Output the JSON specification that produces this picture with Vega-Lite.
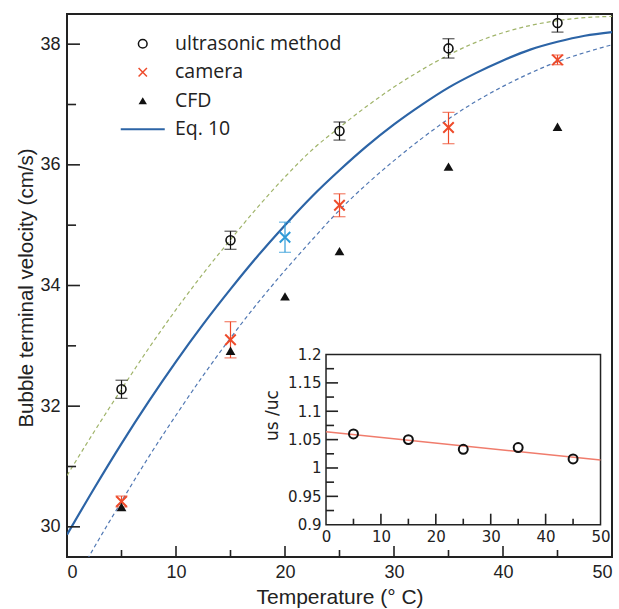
{
  "$schema": "https://vega.github.io/schema/vega-lite/v6.json",
  "width": 545,
  "height": 543,
  "autosize": {"type": "none"},
  "padding": {"left": 67, "top": 14, "right": 7, "bottom": 52},
  "background": "white",
  "config": {
    "view": {"stroke": "#222", "strokeWidth": 2},
    "axis": {"grid": false, "domain": false, "ticks": false, "zindex": 1, "labelFont": "Liberation Sans", "titleFont": "Liberation Sans", "labelColor": "#222", "titleColor": "#222", "titleFontWeight": "normal"}
  },
  "datasets": {
    "meas": [
      {"series": "ultrasonic method", "T": 5, "v": 32.28, "lo": 32.13, "hi": 32.43},
      {"series": "ultrasonic method", "T": 15, "v": 34.75, "lo": 34.6, "hi": 34.9},
      {"series": "ultrasonic method", "T": 25, "v": 36.56, "lo": 36.41, "hi": 36.71},
      {"series": "ultrasonic method", "T": 35, "v": 37.93, "lo": 37.77, "hi": 38.09},
      {"series": "ultrasonic method", "T": 45, "v": 38.35, "lo": 38.2, "hi": 38.5},
      {"series": "camera", "T": 5, "v": 30.42, "lo": 30.33, "hi": 30.51},
      {"series": "camera", "T": 15, "v": 33.1, "lo": 32.8, "hi": 33.4},
      {"series": "camera", "T": 25, "v": 35.33, "lo": 35.14, "hi": 35.52},
      {"series": "camera", "T": 35, "v": 36.62, "lo": 36.35, "hi": 36.87},
      {"series": "camera", "T": 45, "v": 37.74, "lo": 37.66, "hi": 37.82},
      {"series": "CFD", "T": 5, "v": 30.33},
      {"series": "CFD", "T": 15, "v": 32.92},
      {"series": "CFD", "T": 20, "v": 33.82},
      {"series": "CFD", "T": 25, "v": 34.57},
      {"series": "CFD", "T": 35, "v": 35.97},
      {"series": "CFD", "T": 45, "v": 36.63}
    ],
    "blue": [{"T": 20, "v": 34.8, "lo": 34.55, "hi": 35.05}],
    "curves": [
      {"series": "Eq. 10", "T": 0, "v": 29.87}, {"series": "Eq. 10", "T": 2.5, "v": 30.64}, {"series": "Eq. 10", "T": 5, "v": 31.38},
      {"series": "Eq. 10", "T": 7.5, "v": 32.08}, {"series": "Eq. 10", "T": 10, "v": 32.74}, {"series": "Eq. 10", "T": 12.5, "v": 33.36},
      {"series": "Eq. 10", "T": 15, "v": 33.94}, {"series": "Eq. 10", "T": 17.5, "v": 34.49}, {"series": "Eq. 10", "T": 20, "v": 35.0},
      {"series": "Eq. 10", "T": 22.5, "v": 35.48}, {"series": "Eq. 10", "T": 25, "v": 35.91}, {"series": "Eq. 10", "T": 27.5, "v": 36.31},
      {"series": "Eq. 10", "T": 30, "v": 36.67}, {"series": "Eq. 10", "T": 32.5, "v": 36.99}, {"series": "Eq. 10", "T": 35, "v": 37.28},
      {"series": "Eq. 10", "T": 37.5, "v": 37.52}, {"series": "Eq. 10", "T": 40, "v": 37.73}, {"series": "Eq. 10", "T": 42.5, "v": 37.91},
      {"series": "Eq. 10", "T": 45, "v": 38.04}, {"series": "Eq. 10", "T": 47.5, "v": 38.14}, {"series": "Eq. 10", "T": 50, "v": 38.2},
      {"series": "upper", "T": 0, "v": 30.85}, {"series": "upper", "T": 2.5, "v": 31.58}, {"series": "upper", "T": 5, "v": 32.28},
      {"series": "upper", "T": 7.5, "v": 32.96}, {"series": "upper", "T": 10, "v": 33.6}, {"series": "upper", "T": 12.5, "v": 34.2},
      {"series": "upper", "T": 15, "v": 34.76}, {"series": "upper", "T": 17.5, "v": 35.3}, {"series": "upper", "T": 20, "v": 35.8},
      {"series": "upper", "T": 22.5, "v": 36.25}, {"series": "upper", "T": 25, "v": 36.62}, {"series": "upper", "T": 27.5, "v": 36.97},
      {"series": "upper", "T": 30, "v": 37.29}, {"series": "upper", "T": 32.5, "v": 37.57}, {"series": "upper", "T": 35, "v": 37.82},
      {"series": "upper", "T": 37.5, "v": 38.03}, {"series": "upper", "T": 40, "v": 38.19}, {"series": "upper", "T": 42.5, "v": 38.31},
      {"series": "upper", "T": 45, "v": 38.39}, {"series": "upper", "T": 47.5, "v": 38.44}, {"series": "upper", "T": 50, "v": 38.46},
      {"series": "lower", "T": 0, "v": 28.85}, {"series": "lower", "T": 2.5, "v": 29.66}, {"series": "lower", "T": 5, "v": 30.42},
      {"series": "lower", "T": 7.5, "v": 31.16}, {"series": "lower", "T": 10, "v": 31.85}, {"series": "lower", "T": 12.5, "v": 32.51},
      {"series": "lower", "T": 15, "v": 33.13}, {"series": "lower", "T": 17.5, "v": 33.71}, {"series": "lower", "T": 20, "v": 34.25},
      {"series": "lower", "T": 22.5, "v": 34.76}, {"series": "lower", "T": 25, "v": 35.25}, {"series": "lower", "T": 27.5, "v": 35.68},
      {"series": "lower", "T": 30, "v": 36.07}, {"series": "lower", "T": 32.5, "v": 36.43}, {"series": "lower", "T": 35, "v": 36.76},
      {"series": "lower", "T": 37.5, "v": 37.05}, {"series": "lower", "T": 40, "v": 37.3}, {"series": "lower", "T": 42.5, "v": 37.52},
      {"series": "lower", "T": 45, "v": 37.71}, {"series": "lower", "T": 47.5, "v": 37.86}, {"series": "lower", "T": 50, "v": 37.99}
    ],
    "insetbox": [{"T": 0, "T2": 50, "r": 0.9, "r2": 1.2}],
    "insetpts": [
      {"T": 5, "r": 1.06}, {"T": 15, "r": 1.05}, {"T": 25, "r": 1.033}, {"T": 35, "r": 1.036}, {"T": 45, "r": 1.016}
    ],
    "insetfit": [{"T": 0, "r": 1.064}, {"T": 50, "r": 1.014}]
  },
  "layer": [
    {
      "encoding": {
        "x": {"field": "T", "type": "quantitative", "scale": {"domain": [0, 50], "nice": false, "zero": false},
          "axis": {"title": "Temperature (° C)", "values": [0, 10, 20, 30, 40, 50],
            "labelFontSize": 18, "titleFontSize": 21, "labelPadding": 6, "titlePadding": 5}},
        "y": {"field": "v", "type": "quantitative", "scale": {"domain": [29.5, 38.5], "nice": false, "zero": false},
          "axis": {"title": "Bubble terminal velocity (cm/s)", "values": [30, 32, 34, 36, 38], "titleY": 273.5,
            "labelFontSize": 18, "titleFontSize": 20.5, "labelPadding": 7, "titlePadding": 3}}
      },
      "layer": [
        {
          "data": {"name": "curves"},
          "transform": [{"filter": "datum.series === 'upper'"}],
          "mark": {"type": "line", "color": "#a0b46a", "strokeWidth": 1.2, "strokeDash": [4, 3], "clip": true, "interpolate": "monotone"}
        },
        {
          "data": {"name": "curves"},
          "transform": [{"filter": "datum.series === 'lower'"}],
          "mark": {"type": "line", "color": "#5178b3", "strokeWidth": 1.2, "strokeDash": [4, 3], "clip": true, "interpolate": "monotone"}
        },
        {
          "data": {"name": "curves"},
          "transform": [{"filter": "datum.series === 'Eq. 10'"}],
          "mark": {"type": "line", "strokeWidth": 2.2, "clip": true, "interpolate": "monotone"},
          "encoding": {
            "color": {"field": "series", "type": "nominal",
              "scale": {"domain": ["ultrasonic method", "camera", "CFD", "Eq. 10"], "range": ["#111111", "#ee4b2b", "#111111", "#2c64a6"]},
              "legend": {"orient": "none", "legendX": 66, "legendY": 20, "title": null, "padding": 0, "labelLimit": 400,
                "labelFont": "Open Sans", "labelFontSize": 19.5, "labelColor": "#222", "symbolSize": 100, "labelOffset": 22.5, "rowPadding": 7.5,
                "encode": {"symbols": {"update": {
                  "shape": {"signal": "datum.value === 'ultrasonic method' ? 'circle' : datum.value === 'camera' ? 'M-1,-1L1,1M-1,1L1,-1' : datum.value === 'CFD' ? 'triangle-up' : 'stroke'"},
                  "size": {"signal": "datum.value === 'Eq. 10' ? 1936 : datum.value === 'ultrasonic method' ? 75 : 70"},
                  "fill": {"value": "#111111"},
                  "fillOpacity": {"signal": "datum.value === 'CFD' ? 1 : 0"},
                  "stroke": {"signal": "datum.value === 'camera' ? '#ee4b2b' : datum.value === 'Eq. 10' ? '#2c64a6' : '#111111'"},
                  "strokeOpacity": {"value": 1},
                  "strokeWidth": {"signal": "datum.value === 'Eq. 10' ? 2.2 : datum.value === 'CFD' ? 0 : 1.5"},
                  "opacity": {"value": 1}
                }}}}}
          }
        },
        {
          "data": {"name": "meas"},
          "transform": [{"filter": "datum.series !== 'CFD'"}],
          "mark": {"type": "rule", "strokeWidth": 1.2},
          "encoding": {
            "y2": {"field": "hi"},
            "color": {"field": "series", "type": "nominal", "legend": null}
          }
        },
        {
          "data": {"name": "meas"},
          "transform": [{"filter": "datum.series !== 'CFD'"}],
          "mark": {"type": "rule", "strokeWidth": 1.2},
          "encoding": {
            "y2": {"field": "lo"},
            "color": {"field": "series", "type": "nominal", "legend": null}
          }
        },
        {
          "data": {"name": "meas"},
          "transform": [{"filter": "datum.series !== 'CFD'"}, {"fold": ["lo", "hi"], "as": ["cap", "v"]}],
          "mark": {"type": "tick", "orient": "horizontal", "size": 12, "thickness": 1.2},
          "encoding": {
            "color": {"field": "series", "type": "nominal", "legend": null}
          }
        },
        {
          "data": {"name": "blue"},
          "mark": {"type": "rule", "strokeWidth": 1.2, "color": "#2f9bd8"},
          "encoding": {"y2": {"field": "hi"}}
        },
        {
          "data": {"name": "blue"},
          "mark": {"type": "rule", "strokeWidth": 1.2, "color": "#2f9bd8"},
          "encoding": {"y2": {"field": "lo"}}
        },
        {
          "data": {"name": "blue"},
          "transform": [{"fold": ["lo", "hi"], "as": ["cap", "v"]}],
          "mark": {"type": "tick", "orient": "horizontal", "size": 12, "thickness": 1.2, "color": "#2f9bd8"}
        },
        {
          "data": {"name": "blue"},
          "mark": {"type": "point", "shape": "M-1,-1L1,1M-1,1L1,-1", "filled": false, "size": 110, "strokeWidth": 2, "color": "#2f9bd8", "opacity": 1}
        },
        {
          "data": {"name": "meas"},
          "transform": [{"filter": "datum.series === 'ultrasonic method'"}],
          "mark": {"type": "point", "shape": "circle", "filled": false, "size": 80, "strokeWidth": 1.6, "opacity": 1},
          "encoding": {
            "color": {"field": "series", "type": "nominal", "legend": null}
          }
        },
        {
          "data": {"name": "meas"},
          "transform": [{"filter": "datum.series === 'camera'"}],
          "mark": {"type": "point", "shape": "M-1,-1L1,1M-1,1L1,-1", "filled": false, "size": 110, "strokeWidth": 2, "opacity": 1},
          "encoding": {
            "color": {"field": "series", "type": "nominal", "legend": null}
          }
        },
        {
          "data": {"name": "meas"},
          "transform": [{"filter": "datum.series === 'CFD'"}],
          "mark": {"type": "point", "shape": "triangle-up", "filled": true, "size": 95, "opacity": 1},
          "encoding": {
            "color": {"field": "series", "type": "nominal", "legend": null}
          }
        },
        {
          "data": {"values": [
            {"T": 5, "v": 29.5, "hi": 29.616}, {"T": 10, "v": 29.5, "hi": 29.682}, {"T": 15, "v": 29.5, "hi": 29.616},
            {"T": 20, "v": 29.5, "hi": 29.682}, {"T": 25, "v": 29.5, "hi": 29.616}, {"T": 30, "v": 29.5, "hi": 29.682},
            {"T": 35, "v": 29.5, "hi": 29.616}, {"T": 40, "v": 29.5, "hi": 29.682}, {"T": 45, "v": 29.5, "hi": 29.616}
          ]},
          "mark": {"type": "rule", "strokeWidth": 1.6, "color": "#222222"},
          "encoding": {"y2": {"field": "hi"}}
        },
        {
          "data": {"values": [
            {"T": 0, "T2": 1.19, "v": 30}, {"T": 0, "T2": 0.83, "v": 31}, {"T": 0, "T2": 1.19, "v": 32},
            {"T": 0, "T2": 0.83, "v": 33}, {"T": 0, "T2": 1.19, "v": 34}, {"T": 0, "T2": 0.83, "v": 35},
            {"T": 0, "T2": 1.19, "v": 36}, {"T": 0, "T2": 0.83, "v": 37}, {"T": 0, "T2": 1.19, "v": 38}
          ]},
          "mark": {"type": "rule", "strokeWidth": 1.6, "color": "#222222"},
          "encoding": {"x2": {"field": "T2"}}
        }
      ]
    },
    {
      "encoding": {
        "x": {"field": "T", "type": "quantitative", "scale": {"domain": [-47.18, 52.09], "nice": false, "zero": false},
          "axis": {"orient": "bottom", "offset": -32, "title": null, "values": [0, 10, 20, 30, 40, 50],
            "labelFont": "DejaVu Sans", "labelFontSize": 15, "labelPadding": 4}},
        "y": {"field": "r", "type": "quantitative", "scale": {"domain": [0.8431, 1.8002], "nice": false, "zero": false},
          "axis": {"orient": "left", "offset": -259, "title": "us /uc", "titleY": 401, "titleFont": "DejaVu Sans", "titleFontSize": 17,
            "values": [0.9, 0.95, 1, 1.05, 1.1, 1.15, 1.2], "labelExpr": "'' + datum.value",
            "labelFont": "DejaVu Sans", "labelFontSize": 15, "labelPadding": 5, "titlePadding": 6}}
      },
      "layer": [
        {
          "data": {"name": "insetbox"},
          "mark": {"type": "rect", "fill": "white", "stroke": "#222", "strokeWidth": 1.5},
          "encoding": {"x2": {"field": "T2"}, "y2": {"field": "r2"}}
        },
        {
          "data": {"name": "insetfit"},
          "mark": {"type": "line", "color": "#f07c6c", "strokeWidth": 1.5}
        },
        {
          "data": {"name": "insetpts"},
          "mark": {"type": "point", "shape": "circle", "filled": false, "size": 80, "strokeWidth": 2, "color": "#111111", "opacity": 1}
        },
        {
          "data": {"values": [
            {"T": 5, "r": 0.9, "r2": 0.9106}, {"T": 10, "r": 0.9, "r2": 0.9194}, {"T": 15, "r": 0.9, "r2": 0.9106},
            {"T": 20, "r": 0.9, "r2": 0.9194}, {"T": 25, "r": 0.9, "r2": 0.9106}, {"T": 30, "r": 0.9, "r2": 0.9194},
            {"T": 35, "r": 0.9, "r2": 0.9106}, {"T": 40, "r": 0.9, "r2": 0.9194}, {"T": 45, "r": 0.9, "r2": 0.9106}
          ]},
          "mark": {"type": "rule", "strokeWidth": 1.6, "color": "#222222"},
          "encoding": {"y2": {"field": "r2"}}
        },
        {
          "data": {"values": [
            {"T": 0, "T2": 1.46, "r": 0.925}, {"T": 0, "T2": 2.19, "r": 0.95}, {"T": 0, "T2": 1.46, "r": 0.975},
            {"T": 0, "T2": 2.19, "r": 1.0}, {"T": 0, "T2": 1.46, "r": 1.025}, {"T": 0, "T2": 2.19, "r": 1.05},
            {"T": 0, "T2": 1.46, "r": 1.075}, {"T": 0, "T2": 2.19, "r": 1.1}, {"T": 0, "T2": 1.46, "r": 1.125},
            {"T": 0, "T2": 2.19, "r": 1.15}, {"T": 0, "T2": 1.46, "r": 1.175}
          ]},
          "mark": {"type": "rule", "strokeWidth": 1.6, "color": "#222222"},
          "encoding": {"x2": {"field": "T2"}}
        }
      ]
    }
  ],
  "resolve": {"scale": {"x": "independent", "y": "independent"}}
}
